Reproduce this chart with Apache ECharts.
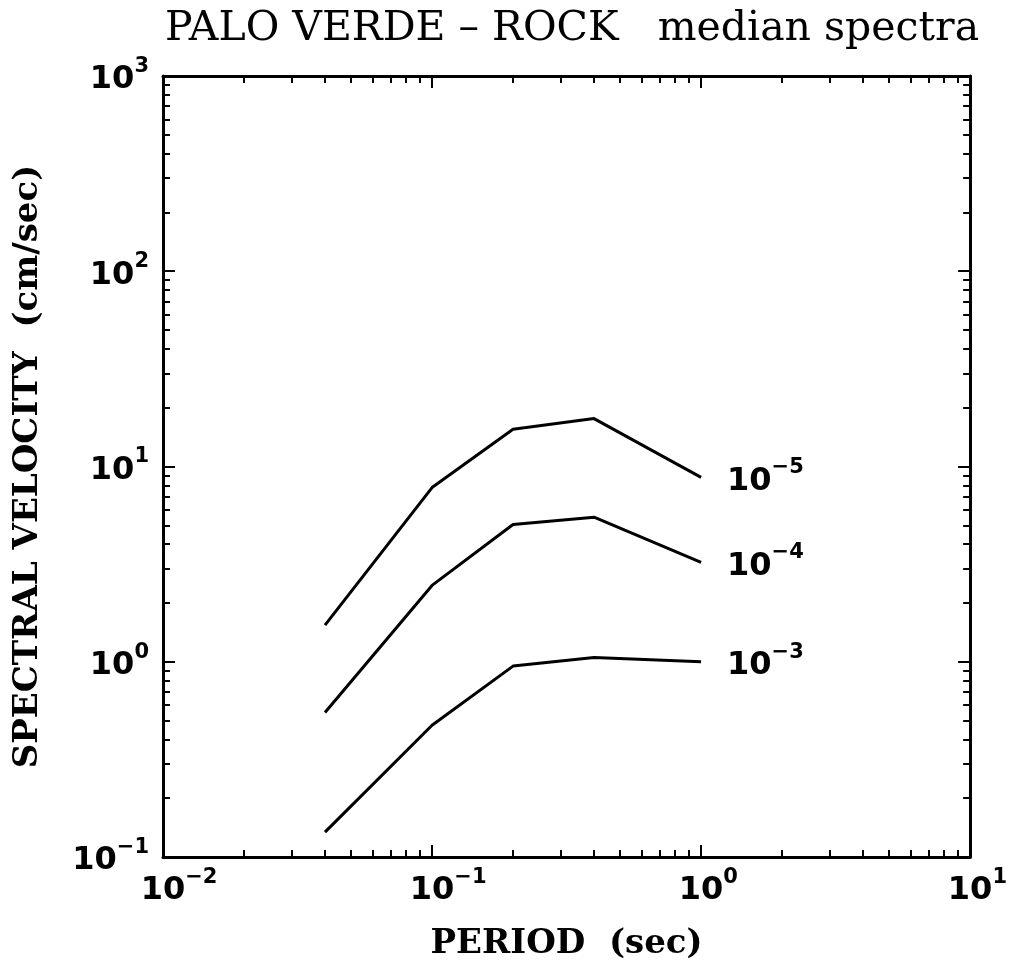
<!DOCTYPE html>
<html>
<head>
<meta charset="utf-8">
<script src="https://cdn.jsdelivr.net/npm/echarts@6/dist/echarts.min.js"></script>
<style>
html,body{margin:0;padding:0;background:#fff;}
#chart{width:1010px;height:969px;}
</style>
</head>
<body>
<div id="chart"></div>
<script>
// ---- data ----
const periods = [0.04, 0.1, 0.2, 0.4, 1.0];
const sv_1e5 = [1.54, 7.8, 15.5, 17.6, 8.8];
const sv_1e4 = [0.55, 2.46, 5.05, 5.5, 3.23];
const sv_1e3 = [0.134, 0.473, 0.95, 1.05, 1.0];
const seriesNames = ['10^-5', '10^-4', '10^-3'];
const seriesExp = ['\u22125', '\u22124', '\u22123'];
const xMajorTicks = [0.01, 0.1, 1, 10];
const yMajorTicks = [0.1, 1, 10, 100, 1000];
const xMinorTicks = [];
const yMinorTicks = [];
[0.01, 0.1, 1].forEach(d => { for (let k = 2; k <= 9; k++) xMinorTicks.push(+(d * k).toPrecision(3)); });
[0.1, 1, 10, 100].forEach(d => { for (let k = 2; k <= 9; k++) yMinorTicks.push(+(d * k).toPrecision(3)); });

const serifFont = 'DejaVu Serif';
const numFont = 'DejaVu Sans';

function expStr(v) {
  const e = Math.round(Math.log10(v));
  return e < 0 ? '\u2212' + (-e) : String(e);
}
const richTick = {
  b: { fontFamily: numFont, fontSize: 32, fontWeight: 'bold', color: '#000', lineHeight: 40, verticalAlign: 'bottom' },
  s: { fontFamily: numFont, fontSize: 21, fontWeight: 'bold', color: '#000', lineHeight: 20, verticalAlign: 'top' },
  p: { fontFamily: numFont, fontSize: 21, fontWeight: 'bold', color: 'rgba(0,0,0,0)', lineHeight: 20, verticalAlign: 'top' }
};

function makeData(vals) { return periods.map((p, i) => [p, vals[i]]); }

const axisLineStyle = { color: '#000', width: 3 };
const majorLen = 12, minorLen = 7;
const nameStyle = { fontFamily: serifFont, fontSize: 34, fontWeight: 'bold', color: '#000' };

function xAxisPair(pos, showLabel) {
  return [
    {
      type: 'log', logBase: 10, min: 0.01, max: 10, position: pos,
      axisLine: { show: true, onZero: false, lineStyle: axisLineStyle },
      axisTick: { show: true, inside: true, length: majorLen, lineStyle: { color: '#000', width: 2 }, customValues: xMajorTicks },
      axisLabel: showLabel ? {
        show: true, margin: 10, customValues: xMajorTicks,
        formatter: v => '{p|' + expStr(v) + '}{b|10}{s|' + expStr(v) + '}',
        rich: richTick
      } : { show: false },
      splitLine: { show: false }, minorTick: { show: false },
      name: showLabel ? 'PERIOD  (sec)' : '', nameLocation: 'middle', nameGap: 70,
      nameTextStyle: nameStyle
    },
    {
      type: 'log', logBase: 10, min: 0.01, max: 10, position: pos,
      axisLine: { show: false, onZero: false },
      axisTick: { show: true, inside: true, length: minorLen, lineStyle: { color: '#000', width: 2 }, customValues: xMinorTicks },
      axisLabel: { show: false }, splitLine: { show: false }
    }
  ];
}
function yAxisPair(pos, showLabel) {
  return [
    {
      type: 'log', logBase: 10, min: 0.1, max: 1000, position: pos,
      axisLine: { show: true, onZero: false, lineStyle: axisLineStyle },
      axisTick: { show: true, inside: true, length: majorLen, lineStyle: { color: '#000', width: 2 }, customValues: yMajorTicks },
      axisLabel: showLabel ? {
        show: true, margin: 14, customValues: yMajorTicks,
        formatter: v => '{b|10}{s|' + expStr(v) + '}',
        rich: richTick
      } : { show: false },
      splitLine: { show: false }, minorTick: { show: false },
      name: showLabel ? 'SPECTRAL VELOCITY  (cm/sec)' : '', nameLocation: 'middle', nameGap: 118, nameRotate: 90,
      nameTextStyle: nameStyle
    },
    {
      type: 'log', logBase: 10, min: 0.1, max: 1000, position: pos,
      axisLine: { show: false, onZero: false },
      axisTick: { show: true, inside: true, length: minorLen, lineStyle: { color: '#000', width: 2 }, customValues: yMinorTicks },
      axisLabel: { show: false }, splitLine: { show: false }
    }
  ];
}

const xAxes = [...xAxisPair('bottom', true), ...xAxisPair('top', false)];
const yAxes = [...yAxisPair('left', true), ...yAxisPair('right', false)];

const allVals = [sv_1e5, sv_1e4, sv_1e3];
const series = allVals.map((vals, i) => ({
  name: seriesNames[i],
  type: 'line',
  xAxisIndex: 0, yAxisIndex: 0,
  data: makeData(vals),
  showSymbol: false, symbol: 'none',
  lineStyle: { color: '#000', width: 3 },
  silent: true,
  animation: false,
  endLabel: {
    show: true, distance: 26,
    formatter: () => '{b|10}{s|' + seriesExp[i] + '}',
    rich: richTick
  }
}));

const chart = echarts.init(document.getElementById('chart'), null, { renderer: 'canvas' });
chart.setOption({
  backgroundColor: '#fff',
  animation: false,
  title: {
    text: 'PALO VERDE \u2013 ROCK   median spectra',
    left: 160, top: 4,
    textStyle: { fontFamily: serifFont, fontSize: 41, fontWeight: 'normal', color: '#000' }
  },
  grid: { left: 163, right: 39, top: 76, bottom: 112, containLabel: false },
  xAxis: xAxes,
  yAxis: yAxes,
  series: series
});
</script>
</body>
</html>
